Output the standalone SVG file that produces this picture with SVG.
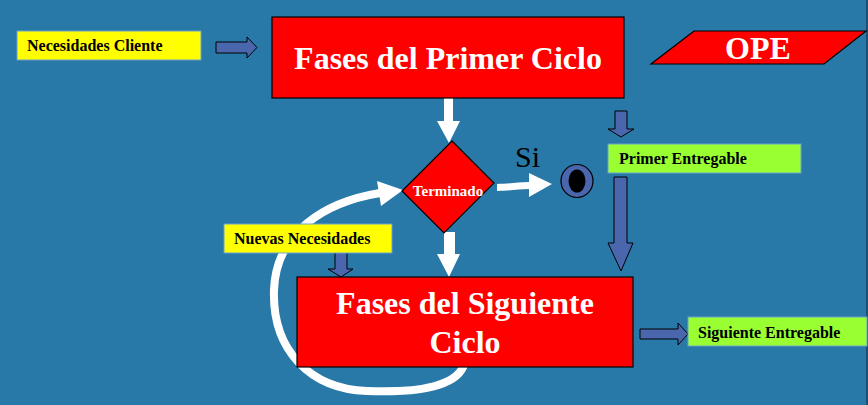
<svg xmlns="http://www.w3.org/2000/svg" width="868" height="405" viewBox="0 0 868 405">
<style>
.bg{fill:#2878a8}
.red{fill:#ff0000;stroke:#000;stroke-width:1.2}
.note{stroke:#6aa0d0;stroke-width:1}
.yel{fill:#ffff00}
.grn{fill:#99ff33}
.barrow{fill:#4a66ad;stroke:#000;stroke-width:1}
.warrow{fill:#fff}
.big{font-family:"Liberation Serif","Times New Roman",serif;font-weight:bold;fill:#fff;font-size:32px}
.lbl{font-family:"Liberation Serif","Times New Roman",serif;font-weight:bold;fill:#000;font-size:16px}
</style>
<rect class="bg" x="0" y="0" width="868" height="405"/>
<rect x="866" y="0" width="2" height="405" fill="#1e4f70"/>

<g id="connectors">
<!-- blue block arrows -->
<polygon class="barrow" points="216,42 247,42 247,37 257,47.5 247,58 247,53 216,53"/>
<polygon class="barrow" points="615,111 627,111 627,129 634,129 621,137 608,129 615,129"/>
<polygon class="barrow" points="614,177 627,177 627,243 633,243 621,271 608,243 614,243"/>
<polygon class="barrow" points="335,251 347,251 347,269 353,269 341,277 328,269 335,269"/>
<polygon class="barrow" points="640,329 678,329 678,323 688,334 678,345 678,339 640,339"/>
<!-- white arrows -->
<polygon class="warrow" points="444,98 453,98 453,121 460,121 449,143 437,121 444,121"/>
<polygon class="warrow" points="444,232 455,232 455,254 460,254 449,277 437,254 444,254"/>
<path class="warrow" d="M497,184 C510,184 518,182 529,182 L529,173 L552,184 L529,197 L529,189 C518,189 510,191 497,191 Z"/>
<path d="M465,360 C462,386 420,393 367,391 C310,389 272,350 274,290 C276,232 325,202 380,193" fill="none" stroke="#fff" stroke-width="8"/>
<polygon class="warrow" points="377,181 403,190 381,206"/>
</g>

<g id="necesidades-cliente">
<rect class="yel note" x="17" y="31" width="184" height="29"/>
<text class="lbl" x="27" y="51">Necesidades Cliente</text>
</g>

<g id="fases-primer-ciclo">
<rect class="red" x="272" y="17" width="352" height="81"/>
<text class="big" x="448" y="69" text-anchor="middle">Fases del Primer Ciclo</text>
</g>

<g id="ope">
<polygon class="red" points="694,31 866,31 824,64 651,64"/>
<text class="big" x="758" y="59" text-anchor="middle" font-size="31">OPE</text>
</g>

<g id="terminado">
<polygon class="red" points="452,141 494,183 444,233 402,191"/>
<text x="448" y="196" text-anchor="middle" font-family="Liberation Serif, Times New Roman, serif" font-weight="bold" font-size="15" fill="#fff">Terminado</text>
</g>

<g id="si-label">
<text x="515" y="167" font-family="Liberation Serif, Times New Roman, serif" font-size="30" fill="#000">Si</text>
</g>

<g id="fin">
<ellipse cx="577" cy="181" rx="16" ry="16.5" fill="#4a66ad" stroke="#000" stroke-width="1.2"/>
<ellipse cx="577" cy="181" rx="8.5" ry="11.5" fill="#000"/>
</g>

<g id="primer-entregable">
<rect class="grn note" x="608" y="144" width="193" height="29"/>
<text class="lbl" x="619" y="164">Primer Entregable</text>
</g>

<g id="nuevas-necesidades">
<rect class="yel note" x="224" y="224" width="168" height="29"/>
<text class="lbl" x="234" y="244">Nuevas Necesidades</text>
</g>

<g id="fases-siguiente-ciclo">
<rect class="red" x="297" y="277" width="336" height="90"/>
<text class="big" x="465" y="314" text-anchor="middle">Fases del Siguiente</text>
<text class="big" x="465" y="353" text-anchor="middle">Ciclo</text>
</g>

<g id="siguiente-entregable">
<rect class="grn note" x="688" y="317" width="179" height="29"/>
<text class="lbl" x="698" y="338">Siguiente Entregable</text>
</g>
</svg>
